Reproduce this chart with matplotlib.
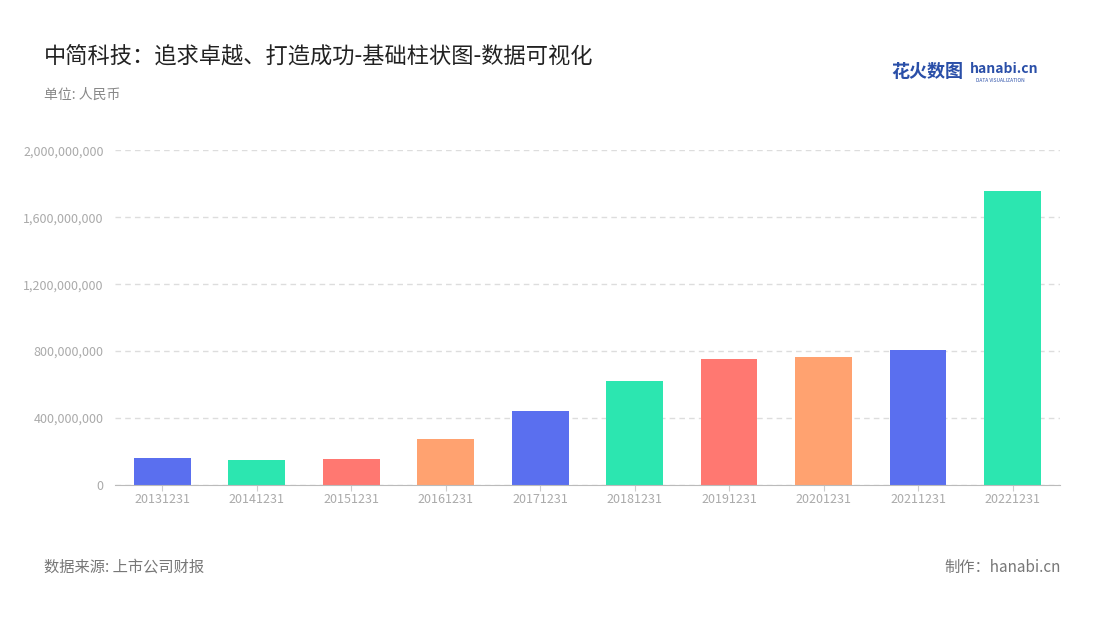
import matplotlib
matplotlib.use("Agg")
import matplotlib.pyplot as plt
from matplotlib.ticker import FuncFormatter

plt.rcParams['font.family'] = ['Noto Sans CJK SC', 'DejaVu Sans']

years = ["20131231","20141231","20151231","20161231","20171231","20181231","20191231","20201231","20211231","20221231"]
values = [161e6, 149e6, 155e6, 275e6, 442e6, 621e6, 752e6, 764e6, 806e6, 1755e6]
palette = ["#5A6FEF", "#2CE6B0", "#FF7871", "#FFA270"]
colors = [palette[i % 4] for i in range(len(values))]

fig = plt.figure(figsize=(11, 6.2), dpi=100)
ax = fig.add_axes([0.1045, 0.2177, 0.859, 0.540])
ax.bar(range(len(values)), values, width=0.6, color=colors, zorder=2)
ax.set_xlim(-0.5, len(values)-0.5)
ax.set_ylim(0, 2e9)
ax.set_yticks([0, 4e8, 8e8, 1.2e9, 1.6e9, 2e9])
ax.yaxis.set_major_formatter(FuncFormatter(lambda v, p: f"{int(v):,}"))
ax.set_xticks(range(len(values)))
ax.set_xticklabels(years)
ax.tick_params(axis='y', colors='#aaaaaa', labelsize=9, length=0, pad=8)
ax.tick_params(axis='x', colors='#aaaaaa', labelsize=9, length=4, color='#cccccc', pad=2)
ax.grid(axis='y', color='#dddddd', linestyle=(0, (4, 3)), linewidth=1, zorder=0)
for s in ['top', 'right', 'left']:
    ax.spines[s].set_visible(False)
ax.spines['bottom'].set_color('#bbbbbb')

fig.text(0.04, 0.91, "中简科技：追求卓越、打造成功-基础柱状图-数据可视化", fontsize=16, color='#222222', va='center')
fig.text(0.04, 0.847, "单位: 人民币", fontsize=10, color='#888888', va='center')
fig.text(0.04, 0.085, "数据来源: 上市公司财报", fontsize=11, color='#777777', va='center')
fig.text(0.964, 0.085, "制作：hanabi.cn", fontsize=11, color='#777777', va='center', ha='right')
fig.text(0.81, 0.884, "花火数图", fontsize=13, color='#2a4fa8', va='center', fontweight='bold')
fig.text(0.882, 0.889, "hanabi.cn", fontsize=10, color='#2a4fa8', va='center', fontweight='bold')
fig.text(0.887, 0.870, "DATA VISUALIZATION", fontsize=3.5, color='#2a4fa8', va='center')

fig.savefig("out.png", dpi=100)
